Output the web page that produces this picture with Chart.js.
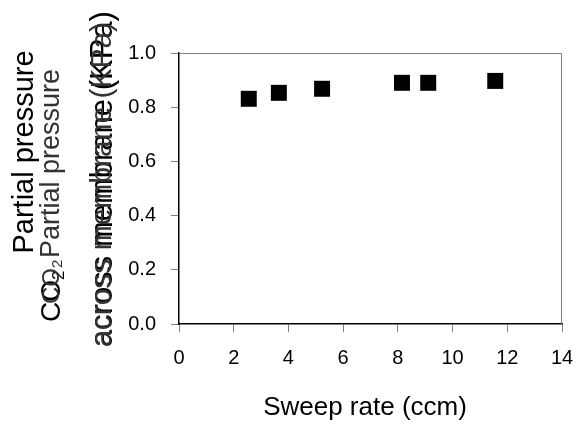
<!DOCTYPE html>
<html>
<head>
<meta charset="utf-8">
<script src="https://cdn.jsdelivr.net/npm/chart.js@4.4.0/dist/chart.umd.min.js"></script>
<style>
  body { margin: 0; background: #fff; }
  #wrap { width: 574px; height: 424px; position: relative; }
</style>
</head>
<body>
<div id="wrap"><canvas id="sweepChart"></canvas></div>
<script>
// sweep rate (ccm) vs CO2 partial pressure across membrane (KPa)
const sweepRate = [2.55, 3.65, 5.23, 8.15, 9.11, 11.56];
const partialPressure = [0.831, 0.853, 0.868, 0.890, 0.890, 0.897];
const xTicks = [0, 2, 4, 6, 8, 10, 12, 14];
const yTicks = [0.0, 0.2, 0.4, 0.6, 0.8, 1.0];

const FONT = '"Liberation Sans", Arial, sans-serif';

// vertical text, read bottom-to-top, starting at (x, y)
function drawV(ctx, text, x, y, font, align) {
  ctx.save();
  ctx.translate(x, y);
  ctx.rotate(-Math.PI / 2);
  ctx.font = font;
  ctx.textAlign = align || "left";
  ctx.textBaseline = "alphabetic";
  ctx.fillText(text, 0, 0);
  const w = ctx.measureText(text).width;
  ctx.restore();
  return w;
}

const labelsPlugin = {
  id: "labels",
  afterDraw(chart) {
    const ctx = chart.ctx;
    const a = chart.chartArea;
    ctx.save();
    // top + right frame
    ctx.strokeStyle = "#808080";
    ctx.lineWidth = 1;
    ctx.beginPath();
    ctx.moveTo(a.left, a.top + 0.5);
    ctx.lineTo(a.right - 0.5, a.top + 0.5);
    ctx.lineTo(a.right - 0.5, a.bottom);
    ctx.stroke();

    ctx.fillStyle = "#000";
    // x title
    ctx.font = "26px " + FONT;
    ctx.textAlign = "center";
    ctx.textBaseline = "alphabetic";
    ctx.fillText("Sweep rate (ccm)", 365, 415);

    // y title (overlapping lines, as in the original)
    drawV(ctx, "Partial pressure", 33, 152, "29px " + FONT, "center");
    let w = drawV(ctx, "CO", 60, 322, "28px " + FONT);
    drawV(ctx, "2", 64, 322 - w, "17px " + FONT);
    ctx.fillStyle = "#333";
    w = drawV(ctx, "CO", 59, 304, "24px " + FONT);
    drawV(ctx, "2", 62, 304 - w, "15px " + FONT);
    drawV(ctx, "Partial pressure", 59, 258, "27px " + FONT);
    ctx.fillStyle = "#000";
    drawV(ctx, "across membrane (KPa)", 112, 347, "31px " + FONT);
    ctx.fillStyle = "#333";
    drawV(ctx, "across membrane (KPa)", 111, 347, "30px " + FONT);
    ctx.restore();
  }
};

const ctx = document.getElementById("sweepChart").getContext("2d");
const myChart = new Chart(ctx, {
  type: "scatter",
  data: {
    datasets: [{
      data: sweepRate.map((x, i) => ({ x: x, y: partialPressure[i] })),
      pointStyle: "rect",
      pointRadius: 11.3,
      pointHoverRadius: 11.3,
      backgroundColor: "#000",
      borderWidth: 0,
    }],
  },
  options: {
    responsive: true,
    maintainAspectRatio: false,
    animation: false,
    layout: { padding: { left: 0, top: 53, right: 12, bottom: 0 } },
    plugins: {
      legend: { display: false },
      tooltip: { enabled: false },
    },
    scales: {
      x: {
        type: "linear",
        min: xTicks[0],
        max: xTicks[xTicks.length - 1],
        afterBuildTicks: (s) => { s.ticks = xTicks.map((v) => ({ value: v })); },
        afterFit: (s) => {
          s.height = 100;
          s.paddingLeft = 0;
          s.paddingRight = 0;
        },
        grid: { drawOnChartArea: false, tickLength: 8, color: "#808080" },
        border: { color: "#000", width: 1.5 },
        ticks: { color: "#000", font: { family: FONT, size: 20 }, padding: 14 },
      },
      y: {
        type: "linear",
        min: 0,
        max: 1,
        afterBuildTicks: (s) => { s.ticks = yTicks.map((v) => ({ value: v })); },
        afterFit: (s) => {
          s.width = 179;
          s.paddingTop = 0;
          s.paddingBottom = 0;
        },
        grid: { drawOnChartArea: false, tickLength: 8, color: "#808080" },
        border: { color: "#000", width: 1.5 },
        ticks: {
          color: "#000",
          font: { family: FONT, size: 20 },
          padding: 15,
          callback: (v) => v.toFixed(1),
        },
      },
    },
  },
  plugins: [labelsPlugin],
});
</script>
</body>
</html>
